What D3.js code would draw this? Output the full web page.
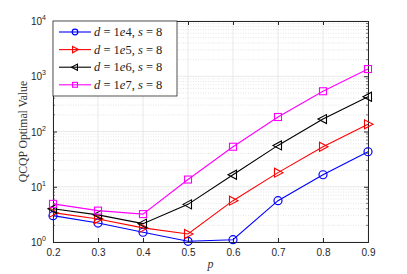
<!DOCTYPE html>
<html>
<head>
<meta charset="utf-8">
<script src="https://cdn.jsdelivr.net/npm/d3@7"></script>
<style>
  body { margin: 0; background: #fff; }
  svg { display: block; }
</style>
</head>
<body>
<svg id="chart" width="407" height="274"></svg>
<script>
// values
const pValues = [0.2, 0.3, 0.4, 0.5, 0.6, 0.7, 0.8, 0.9];
const d1e4 = [3.0, 2.2, 1.5, 1.03, 1.1, 5.6, 16.5, 43];
const d1e5 = [3.4, 2.6, 1.8, 1.4, 5.6, 18, 53, 135];
const d1e6 = [4.0, 3.1, 2.15, 4.8, 16.5, 56, 168, 425];
const d1e7 = [4.9, 3.7, 3.2, 13.5, 53, 183, 535, 1350];
const seriesNames = ["1e4", "1e5", "1e6", "1e7"];
const yTickLabels = ["0", "1", "2", "3", "4"];

const series = [
  { name: seriesNames[0], values: d1e4, color: "#0000ff", marker: "circle" },
  { name: seriesNames[1], values: d1e5, color: "#ff0000", marker: "triRight" },
  { name: seriesNames[2], values: d1e6, color: "#000000", marker: "triLeft" },
  { name: seriesNames[3], values: d1e7, color: "#ff00ff", marker: "square" }
];

const svg = d3.select("#chart");
const plotLeft = 53, plotRight = 368, plotTop = 21, plotBottom = 242;
const serif = "'Liberation Serif', 'Times New Roman', serif";
const sans = "'Liberation Sans', Arial, sans-serif";

const x = d3.scaleLinear().domain([0.2, 0.9]).range([plotLeft, plotRight]);
const y = d3.scaleLog().domain([1, 10000]).range([plotBottom, plotTop]);

// grid: minor dotted first, then major solid
const minor = [];
for (let e = 0; e < 4; e++) {
  for (let k = 2; k <= 9; k++) minor.push(k * Math.pow(10, e));
}
svg.append("g").selectAll("line").data(minor).enter().append("line")
  .attr("x1", plotLeft).attr("x2", plotRight)
  .attr("y1", d => y(d)).attr("y2", d => y(d))
  .attr("stroke", "#d4d4d4").attr("stroke-width", 0.6)
  .attr("stroke-dasharray", "1,1.5");

const majors = [1, 10, 100, 1000, 10000];
svg.append("g").selectAll("line").data(majors).enter().append("line")
  .attr("x1", plotLeft).attr("x2", plotRight)
  .attr("y1", d => y(d)).attr("y2", d => y(d))
  .attr("stroke", "#e3e3e3").attr("stroke-width", 0.8);
svg.append("g").selectAll("line").data(pValues).enter().append("line")
  .attr("y1", plotTop).attr("y2", plotBottom)
  .attr("x1", d => x(d)).attr("x2", d => x(d))
  .attr("stroke", "#e3e3e3").attr("stroke-width", 0.8);

// axes (ticks inward, box all round)
const axisColor = "#262626";
const xAxis = d3.axisBottom(x).tickValues(pValues).tickSize(-4).tickPadding(7)
  .tickFormat(d3.format(".1f"));
svg.append("g").attr("transform", `translate(0,${plotBottom})`).call(xAxis)
  .call(g => {
    g.select(".domain").attr("stroke", axisColor);
    g.selectAll(".tick line").attr("stroke", axisColor);
    g.selectAll("text").attr("fill", axisColor)
      .style("font-family", sans).style("font-size", "10px");
  });
svg.append("g").attr("transform", `translate(0,${plotTop})`)
  .call(d3.axisTop(x).tickValues(pValues).tickSize(-4).tickFormat(""))
  .call(g => {
    g.select(".domain").attr("stroke", axisColor);
    g.selectAll(".tick line").attr("stroke", axisColor);
  });

const yAxis = d3.axisLeft(y).tickValues(majors).tickSize(-4).tickFormat("");
svg.append("g").attr("transform", `translate(${plotLeft},0)`).call(yAxis)
  .call(g => {
    g.select(".domain").attr("stroke", axisColor);
    g.selectAll(".tick line").attr("stroke", axisColor);
  });
svg.append("g").attr("transform", `translate(${plotRight},0)`)
  .call(d3.axisRight(y).tickValues(majors).tickSize(-4).tickFormat(""))
  .call(g => {
    g.select(".domain").attr("stroke", axisColor);
    g.selectAll(".tick line").attr("stroke", axisColor);
  });

// minor ticks on y
[plotLeft, plotRight].forEach(px => {
  const dir = px === plotLeft ? 1 : -1;
  svg.append("g").selectAll("line").data(minor).enter().append("line")
    .attr("x1", px).attr("x2", px + dir * 2)
    .attr("y1", d => y(d)).attr("y2", d => y(d))
    .attr("stroke", axisColor).attr("stroke-width", 0.6);
});

// y tick labels 10^n
const yl = svg.append("g").selectAll("text").data(majors).enter().append("text")
  .attr("x", 46).attr("y", d => y(d) + 4)
  .attr("text-anchor", "end")
  .attr("fill", axisColor)
  .style("font-family", sans).style("font-size", "10px");
yl.append("tspan").text("10");
yl.append("tspan").attr("dy", -5).style("font-size", "7px").text((d, i) => yTickLabels[i]);

// axis titles
svg.append("text")
  .attr("transform", `translate(27,${(plotTop + plotBottom) / 2}) rotate(-90)`)
  .attr("text-anchor", "middle")
  .attr("fill", "#333")
  .style("font-family", serif).style("font-size", "11.7px")
  .text("QCQP Optimal Value");
svg.append("text")
  .attr("x", (plotLeft + plotRight) / 2).attr("y", 268)
  .attr("text-anchor", "middle")
  .attr("fill", "#333")
  .style("font-family", serif).style("font-size", "12px")
  .style("font-style", "italic")
  .text("p");

// markers, k scales the size (legend ones are smaller)
function drawMarker(g, type, color, cx, cy, k = 1) {
  if (type === "circle") {
    g.append("circle").attr("cx", cx).attr("cy", cy).attr("r", 4 * k)
      .attr("fill", "none").attr("stroke", color).attr("stroke-width", 1.2);
  } else if (type === "square") {
    g.append("rect").attr("x", cx - 3.5 * k).attr("y", cy - 3.5 * k)
      .attr("width", 7 * k).attr("height", 7 * k)
      .attr("fill", "none").attr("stroke", color).attr("stroke-width", 1.1);
  } else if (type === "triRight") {
    g.append("path").attr("d", `M${cx + 5 * k},${cy} L${cx - 3.5 * k},${cy - 4.5 * k} L${cx - 3.5 * k},${cy + 4.5 * k} Z`)
      .attr("fill", "none").attr("stroke", color).attr("stroke-width", 1.1);
  } else {
    g.append("path").attr("d", `M${cx - 5 * k},${cy} L${cx + 3.5 * k},${cy - 4.5 * k} L${cx + 3.5 * k},${cy + 4.5 * k} Z`)
      .attr("fill", "none").attr("stroke", color).attr("stroke-width", 1.1);
  }
}

const line = d3.line().x((d, i) => x(pValues[i])).y(d => y(d));
series.forEach(s => {
  const g = svg.append("g");
  g.append("path").datum(s.values).attr("d", line)
    .attr("fill", "none").attr("stroke", s.color).attr("stroke-width", 1.1);
  s.values.forEach((v, i) => drawMarker(g, s.marker, s.color, x(pValues[i]), y(v)));
});

// legend
const lg = svg.append("g");
lg.append("rect").attr("x", plotLeft).attr("y", plotTop).attr("width", 124).attr("height", 75)
  .attr("fill", "#fff").attr("stroke", axisColor).attr("stroke-width", 0.8);
series.forEach((s, i) => {
  const ly = plotTop + 11 + i * 17.6;
  lg.append("line").attr("x1", 59).attr("x2", 91).attr("y1", ly).attr("y2", ly)
    .attr("stroke", s.color).attr("stroke-width", 1.1);
  drawMarker(lg, s.marker, s.color, 75, ly, 0.7);
  const t = lg.append("text").attr("x", 94).attr("y", ly + 4)
    .attr("fill", "#222")
    .style("font-family", serif).style("font-size", "12.5px");
  t.append("tspan").style("font-style", "italic").text("d");
  t.append("tspan").text(" = 1");
  t.append("tspan").style("font-style", "italic").text("e");
  t.append("tspan").text(s.name.slice(2) + ", ");
  t.append("tspan").style("font-style", "italic").text("s");
  t.append("tspan").text(" = 8");
});
</script>
</body>
</html>
